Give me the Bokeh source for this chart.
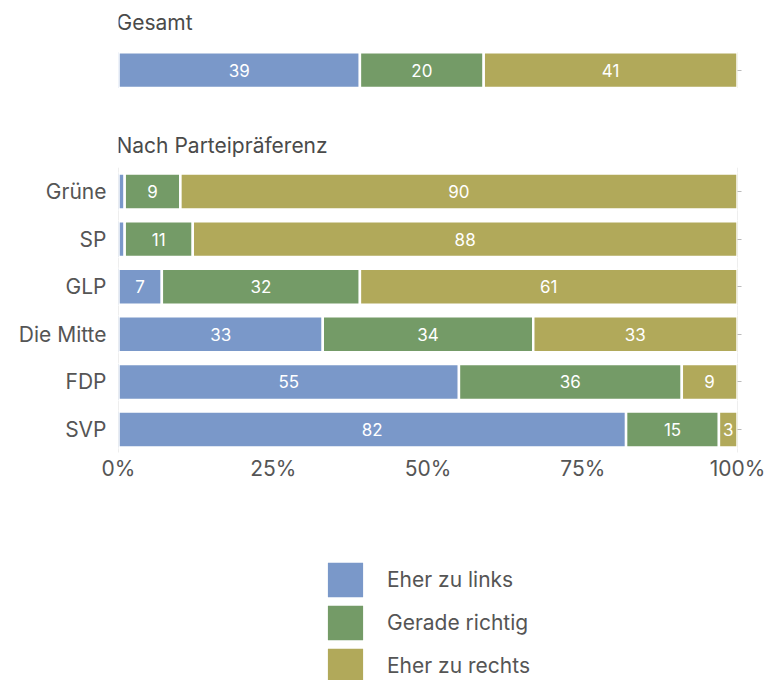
from bokeh.plotting import figure
from bokeh.models import (Range1d, FixedTicker, PrintfTickFormatter, LinearAxis,
                          Label, Legend, LegendItem, ColumnDataSource)
from bokeh.core.properties import value
from bokeh.layouts import column
from bokeh.embed import file_html
from bokeh.resources import INLINE

# ---- data ----
parties = ["Grüne", "SP", "GLP", "Die Mitte", "FDP", "SVP"]
links = [1, 1, 7, 33, 55, 82]
gerade = [9, 11, 32, 34, 36, 15]
rechts = [90, 88, 61, 33, 9, 3]

gesamt_label = "Gesamt"
gesamt_links = [39]
gesamt_gerade = [20]
gesamt_rechts = [41]

series_names = ["Eher zu links", "Gerade richtig", "Eher zu rechts"]
colors = ["#7a98c9", "#749b67", "#b1a95a"]
x_ticks = [0, 25, 50, 75, 100]

FONT = "Inter"
TXT = "#555555"
FS = "21px"

# row positions (layout)
rows = list(range(len(parties)))
gesamt_pos = -2.55

all_y = [gesamt_pos] + rows
all_l = gesamt_links + links
all_g = gesamt_gerade + gerade
all_r = gesamt_rechts + rechts

p = figure(width=768, height=488, x_range=Range1d(0, 100),
           y_range=Range1d(5.483, -3.845), output_backend="svg",
           toolbar_location=None, min_border_left=118, min_border_right=31,
           min_border_top=8, min_border_bottom=36, x_axis_type=None, y_axis_type=None)
p.outline_line_color = None
p.xgrid.visible = False
p.ygrid.visible = False

# faint boundary lines at 0 and 100 across party rows
p.segment(x0=[0, 100], x1=[0, 100], y0=[-0.5, -0.5], y1=[5.5, 5.5],
          line_color="#dddddd", line_width=1)

starts = [0] * len(all_y)
for vals, name, col in zip([all_l, all_g, all_r], series_names, colors):
    lefts = starts
    rights = [a + b for a, b in zip(starts, vals)]
    src = ColumnDataSource(dict(y=all_y, left=lefts, right=rights, v=vals,
                                mid=[(a + b) / 2 for a, b in zip(lefts, rights)],
                                lab=[str(v) if v > 1 else "" for v in vals]))
    p.hbar(y="y", left="left", right="right", height=0.755, source=src,
           fill_color=col, line_color="white", line_width=2.5)
    p.text(x="mid", y="y", text="lab", source=src, text_color="white",
           text_align="center", text_baseline="middle",
           text_font_size="17px", text_font=value(FONT))
    starts = rights

# left axis with party names
yax = LinearAxis(ticker=FixedTicker(ticks=rows),
                 major_label_overrides={i: n for i, n in zip(rows, parties)})
yax.axis_line_color = None
yax.major_tick_line_color = None
yax.major_tick_out = 0
yax.minor_tick_line_color = None
yax.major_label_text_font = FONT
yax.major_label_text_font_size = FS
yax.major_label_text_color = TXT
yax.major_label_standoff = 12
p.add_layout(yax, "left")

# right axis: small tick marks only
rax = LinearAxis(ticker=FixedTicker(ticks=all_y))
rax.axis_line_color = None
rax.major_tick_line_color = "#bbbbbb"
rax.major_tick_in = 0
rax.major_tick_out = 4
rax.minor_tick_line_color = None
rax.major_label_text_font_size = "0px"
rax.major_label_text_color = None
p.add_layout(rax, "right")

xax = LinearAxis(ticker=FixedTicker(ticks=x_ticks),
                 formatter=PrintfTickFormatter(format="%d%%"))
xax.axis_line_color = None
xax.major_tick_line_color = None
xax.major_tick_out = 0
xax.minor_tick_line_color = None
xax.major_label_text_font = FONT
xax.major_label_text_font_size = FS
xax.major_label_text_color = TXT
xax.major_label_standoff = 3
p.add_layout(xax, "below")

p.add_layout(Label(x=0, y=-3.55, text=gesamt_label, text_baseline="middle",
                   text_font=FONT, text_font_size=FS, text_color="#4a4a4a",
                   x_offset=-2))
p.add_layout(Label(x=0, y=-0.97, text="Nach Parteipräferenz", text_baseline="middle",
                   text_font=FONT, text_font_size=FS, text_color="#4a4a4a",
                   x_offset=-2))

# legend figure (swatch renderers sit outside the visible range)
lg = figure(width=768, height=192, x_range=Range1d(0, 1), y_range=Range1d(0, 1),
            output_backend="svg", toolbar_location=None, min_border=0,
            x_axis_type=None, y_axis_type=None)
lg.outline_line_color = None
lg.xgrid.visible = False
lg.ygrid.visible = False
items = []
for name, col in zip(series_names, colors):
    r = lg.rect(x=[-10], y=[-10], width=1, height=1, fill_color=col, line_color=None)
    items.append(LegendItem(label=name, renderers=[r]))
leg = Legend(items=items, location=(205, -7), orientation="vertical",
             glyph_width=44, glyph_height=43, spacing=0, padding=0, margin=0,
             label_standoff=20, label_text_font=FONT, label_text_font_size=FS,
             label_text_color=TXT, border_line_color=None,
             background_fill_alpha=0)
lg.add_layout(leg, "center")

layout = column(p, lg, spacing=0)
open("out.html", "w").write(file_html(layout, INLINE))
